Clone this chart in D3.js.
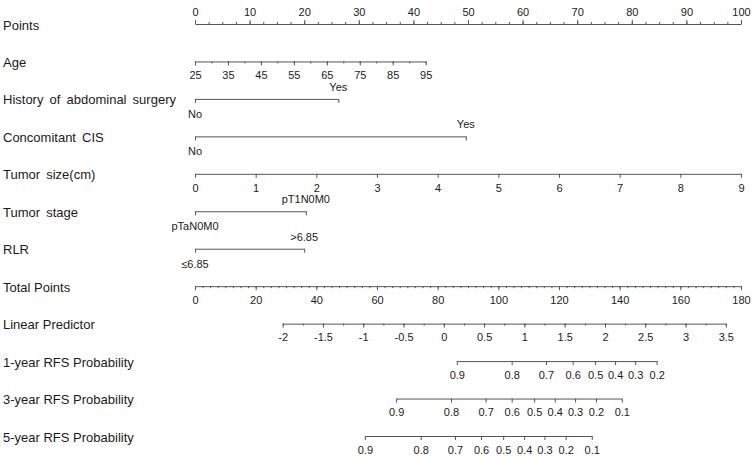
<!DOCTYPE html>
<html>
<head>
<meta charset="utf-8">
<script src="https://cdn.jsdelivr.net/npm/d3@7"></script>
<style>
  body { margin: 0; background: #fff; }
  text { font-family: "Liberation Sans", Arial, sans-serif; fill: #1a1a1a; }
</style>
</head>
<body>
<div id="chart"></div>
<script>
// Row names of the nomogram
var rowNames = ["Points", "Age", "History of abdominal surgery", "Concomitant CIS",
  "Tumor size(cm)", "Tumor stage", "RLR", "Total Points", "Linear Predictor",
  "1-year RFS Probability", "3-year RFS Probability", "5-year RFS Probability"];

// Points axis
var pointsLabels = [0, 10, 20, 30, 40, 50, 60, 70, 80, 90, 100];

// Age (continuous): age range and the points it spans
var ageRange = [25, 95];
var agePoints = [0, 42.25];
var ageLabels = [25, 35, 45, 55, 65, 75, 85, 95];

// Categorical variables: [low level, high level] and points of the high level
var historyLevels = ["No", "Yes"];
var historyPoints = 26.25;
var cisLevels = ["No", "Yes"];
var cisPoints = 49.6;
var stageLevels = ["pTaN0M0", "pT1N0M0"];
var stagePoints = 20.3;
var rlrLevels = ["\u22646.85", ">6.85"];
var rlrPoints = 20.0;

// Tumor size (cm)
var sizeRange = [0, 9];
var sizePoints = [0, 100];
var sizeLabels = [0, 1, 2, 3, 4, 5, 6, 7, 8, 9];

// Total points
var totalRange = [0, 180];
var totalLabels = [0, 20, 40, 60, 80, 100, 120, 140, 160, 180];

// Linear predictor, placed on the total points scale
var lpRange = [-2, 3.5];
var lpTotal = [28.9, 175.0];
var lpLabels = [-2, -1.5, -1, -0.5, 0, 0.5, 1, 1.5, 2, 2.5, 3, 3.5];

// RFS probabilities and where they sit on the total points scale
var prob1Labels = [0.9, 0.8, 0.7, 0.6, 0.5, 0.4, 0.3, 0.2];
var prob1Total = [86.3, 104.4, 115.7, 124.5, 131.9, 138.5, 145.1, 152.2];
var prob3Labels = [0.9, 0.8, 0.7, 0.6, 0.5, 0.4, 0.3, 0.2, 0.1];
var prob3Total = [66.3, 84.4, 95.8, 104.4, 111.8, 118.6, 125.3, 132.2, 140.7];
var prob5Labels = [0.9, 0.8, 0.7, 0.6, 0.5, 0.4, 0.3, 0.2, 0.1];
var prob5Total = [56.0, 74.4, 85.7, 94.3, 101.6, 108.5, 115.2, 122.2, 130.8];

var width = 754, height = 458;
var lineColor = "#555";

var svg = d3.select("#chart").append("svg")
  .attr("width", width)
  .attr("height", height);

// Shared horizontal scales
var xPts = d3.scaleLinear().domain([0, 100]).range([195, 741]);
var xTot = d3.scaleLinear().domain(totalRange).range([195, 741]);

// Row positions
var yRow = d3.scalePoint().domain(rowNames).range([24, 436]);

// Row labels (the upper predictor labels have wider word gaps)
var spacedRows = rowNames.slice(1, 7);
svg.selectAll("text.rowlabel")
  .data(rowNames)
  .enter().append("text")
  .attr("class", "rowlabel")
  .attr("x", 3)
  .attr("y", d => yRow(d) + 1)
  .attr("dominant-baseline", "central")
  .style("font-size", "13px")
  .style("word-spacing", d => spacedRows.indexOf(d) >= 0 ? "2.5px" : null)
  .text(d => d);

// Style an axis group
function styleAxis(g) {
  g.select(".domain").attr("stroke", lineColor).attr("stroke-width", 1);
  g.selectAll(".tick line").attr("stroke", lineColor).attr("stroke-width", 1);
  g.selectAll(".tick text")
    .attr("fill", "#1a1a1a")
    .style("font-size", "11px")
    .style("font-family", "'Liberation Sans', Arial, sans-serif");
}

// Draw a labelled scale row, with optional minor ticks
function drawScale(row, scale, labels, minor, top, fmt) {
  var y = yRow(row);
  var g = svg.append("g").attr("transform", `translate(0, ${y})`);
  var axisFn = top ? d3.axisTop : d3.axisBottom;
  if (minor) {
    var gm = g.append("g").call(axisFn(scale).tickValues(minor).tickSize(2).tickSizeOuter(0).tickFormat(""));
    styleAxis(gm);
    gm.select(".domain").remove();
  }
  var ga = g.append("g").call(axisFn(scale)
    .tickValues(labels)
    .tickSize(4)
    .tickSizeOuter(0)
    .tickPadding(top ? 4 : 6)
    .tickFormat(fmt || (d => d)));
  styleAxis(ga);
}

// Draw a two-level categorical row
function drawCategory(row, levels, pts) {
  var y = yRow(row);
  var scale = d3.scaleLinear().domain([0, 1]).range([xPts(0), xPts(pts)]);
  var g = svg.append("g").attr("transform", `translate(0, ${y})`);
  g.call(d3.axisBottom(scale).tickValues([0, 1]).tickSize(4).tickSizeOuter(0).tickFormat(""));
  styleAxis(g);
  g.append("text")
    .attr("x", scale(0))
    .attr("y", 15)
    .attr("text-anchor", "middle")
    .attr("dominant-baseline", "central")
    .style("font-size", "11px")
    .text(levels[0]);
  g.append("text")
    .attr("x", scale(1))
    .attr("y", -12)
    .attr("text-anchor", "middle")
    .attr("dominant-baseline", "central")
    .style("font-size", "11px")
    .text(levels[1]);
}

// Points
drawScale("Points", xPts, pointsLabels, d3.range(0, 100.1, 2.5), true);

// Age
var ageScale = d3.scaleLinear().domain(ageRange).range(agePoints.map(xPts));
drawScale("Age", ageScale, ageLabels, d3.range(25, 96, 5), false);

// Categorical predictors
drawCategory("History of abdominal surgery", historyLevels, historyPoints);
drawCategory("Concomitant CIS", cisLevels, cisPoints);

// Tumor size
var sizeScale = d3.scaleLinear().domain(sizeRange).range(sizePoints.map(xPts));
drawScale("Tumor size(cm)", sizeScale, sizeLabels, null, false);

drawCategory("Tumor stage", stageLevels, stagePoints);
drawCategory("RLR", rlrLevels, rlrPoints);

// Total points
drawScale("Total Points", xTot, totalLabels, d3.range(0, 180.1, 2.5), false);

// Linear predictor
var lpScale = d3.scaleLinear().domain(lpRange).range(lpTotal.map(xTot));
drawScale("Linear Predictor", lpScale, lpLabels, d3.range(-2, 3.51, 0.25), false);

// Probabilities (piecewise scales from the read-off positions)
var p1Scale = d3.scaleLinear().domain(prob1Labels).range(prob1Total.map(xTot));
drawScale("1-year RFS Probability", p1Scale, prob1Labels, null, false, d => d.toFixed(1));
var p3Scale = d3.scaleLinear().domain(prob3Labels).range(prob3Total.map(xTot));
drawScale("3-year RFS Probability", p3Scale, prob3Labels, null, false, d => d.toFixed(1));
var p5Scale = d3.scaleLinear().domain(prob5Labels).range(prob5Total.map(xTot));
drawScale("5-year RFS Probability", p5Scale, prob5Labels, null, false, d => d.toFixed(1));
</script>
</body>
</html>
